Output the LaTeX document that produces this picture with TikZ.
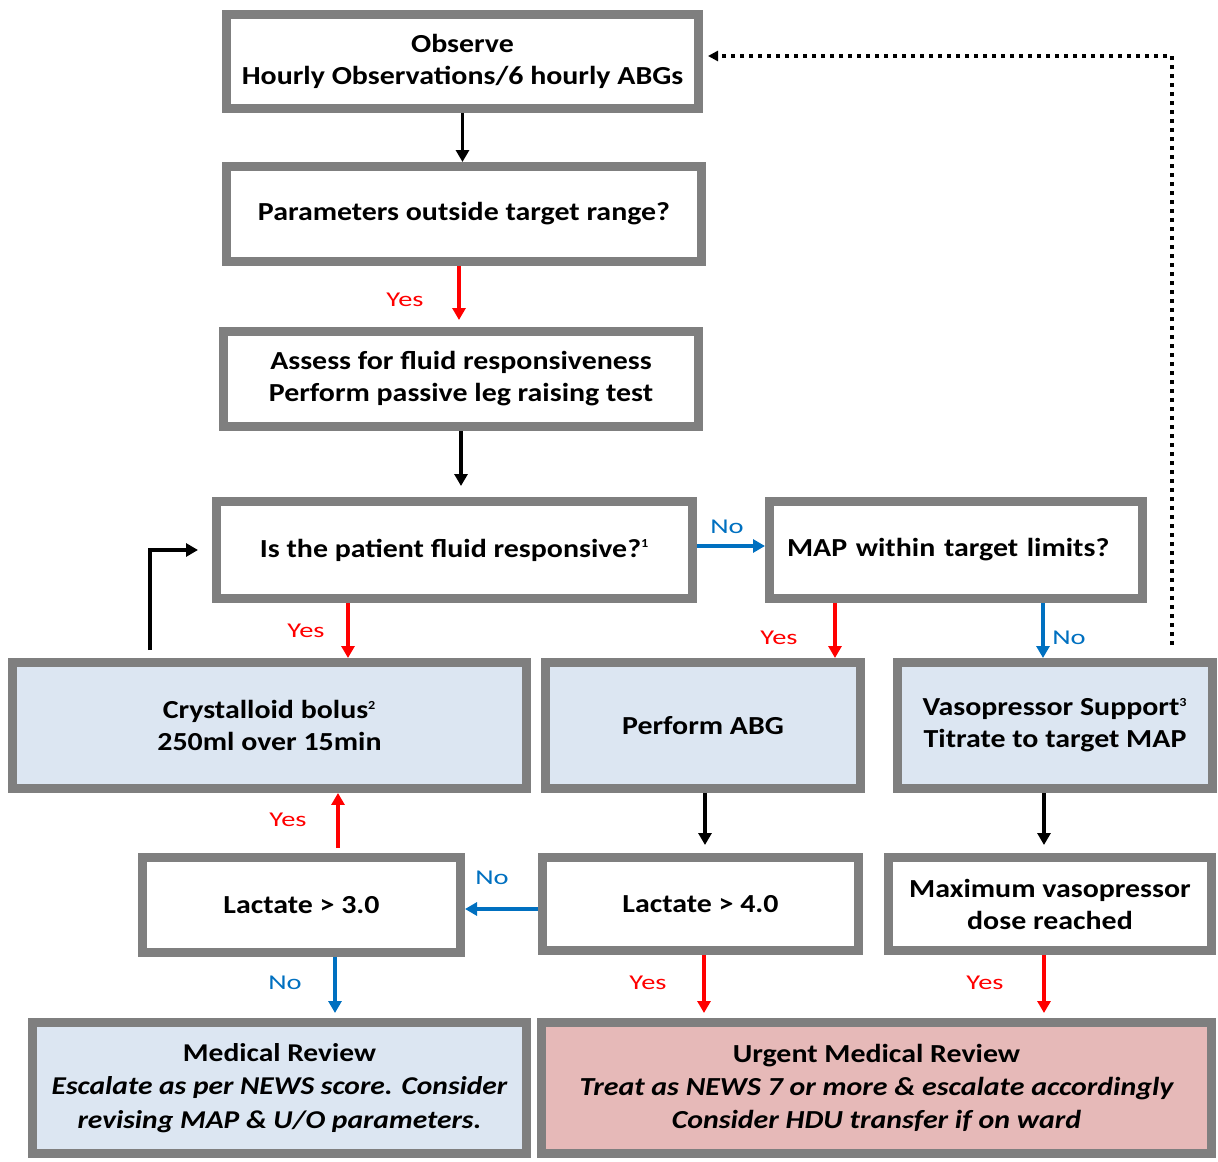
\documentclass[tikz,border=0pt]{standalone}
\usepackage{fontspec}
\setmainfont{Carlito}[FakeStretch=1.15]
\newfontfamily\lblfont{Carlito}[FakeStretch=1.35]
\usetikzlibrary{arrows.meta}
\definecolor{boxgray}{HTML}{7F7F7F}
\definecolor{paleblue}{HTML}{DCE6F2}
\definecolor{palered}{HTML}{E6B9B8}
\definecolor{noblue}{HTML}{0070C0}
\tikzset{
  box/.style={draw=boxgray, line width=0.18cm, fill=white, align=center, inner sep=0pt,
    font=\bfseries\fontsize{14.8}{18.2}\selectfont},
  wh/.style 2 args={minimum width=#1*0.02cm, minimum height=#2*0.02cm},
  arr/.style={line width=0.07cm, -{Triangle[length=0.24cm,width=0.26cm]}},
  dots/.style={line width=0.08cm, dash pattern=on 0.08cm off 0.1cm, -{Triangle[length=0.2cm,width=0.2cm]}},
  yes/.style={text=red, font=\lblfont\fontsize{12}{12}\selectfont},
  no/.style={text=noblue, font=\lblfont\fontsize{12}{12}\selectfont}
}
\begin{document}
\begin{tikzpicture}[x=0.02cm,y=-0.02cm]
\useasboundingbox (0,0) rectangle (1218,1162);
% boxes
\node[box,wh={472}{94}] (obs) at (462.5,61.5) {Observe\\Hourly Observations/6 hourly ABGs};
\node[box,wh={475}{95}] (par) at (464,214) {Parameters outside target range?};
\node[box,wh={475}{95}] (ass) at (461,379) {Assess for fluid responsiveness\\Perform passive leg raising test};
\node[box,wh={476}{97}] (isf) at (454.5,550) {Is the patient fluid responsive?\textsuperscript{\scriptsize 1}};
\node[box,wh={373}{97},align=left,inner xsep=0.35cm,text width=6.76cm] (map) at (956,550) {MAP within target limits?};
\node[box,fill=paleblue,wh={514}{126}] (cry) at (269.5,725.5) {Crystalloid bolus\textsuperscript{\scriptsize 2}\\250ml over 15min};
\node[box,fill=paleblue,wh={315}{126}] (abg) at (703,725.5) {Perform ABG};
\node[box,fill=paleblue,wh={315}{126}] (vas) at (1055,725.5) {Vasopressor Support\textsuperscript{\scriptsize 3}\\Titrate to target MAP};
\node[box,wh={318}{95}] (lac3) at (301.5,905) {Lactate > 3.0};
\node[box,wh={316}{93}] (lac4) at (700.5,904) {Lactate > 4.0};
\node[box,wh={323}{93}] (max) at (1050,904) {Maximum vasopressor\\dose reached};
\node[box,fill=paleblue,wh={494}{131},font=\bfseries\fontsize{14.6}{19}\selectfont] (med) at (279.5,1088) {Medical Review\\\itshape Escalate as per NEWS score. Consider\\\itshape revising MAP \& U/O parameters.};
\node[box,fill=palered,wh={670}{131},font=\bfseries\fontsize{14.8}{19}\selectfont] (urg) at (876.5,1088) {Urgent Medical Review\\\itshape Treat as NEWS 7 or more \& escalate accordingly\\\itshape Consider HDU transfer if on ward};
% yes / no
\node[yes] (y1) at (405,300) {Yes};
\node[no] (n1) at (727,527) {No};
\node[yes] (y2) at (306,631) {Yes};
\node[yes] (y3) at (779,638) {Yes};
\node[no] (n2) at (1069,638) {No};
\node[no] (n3) at (492,878) {No};
\node[yes] (y4) at (288,820) {Yes};
\node[no] (n4) at (285,983) {No};
\node[yes] (y5) at (648,983) {Yes};
\node[yes] (y6) at (985,983) {Yes};
% arrows
\draw[arr] (obs.south) -- (obs.south |- par.north);
\draw[arr,red,shorten >=0.14cm] (par.south -| 459,0) -- (ass.north -| 459,0);
\draw[arr,shorten >=0.22cm] (ass.south -| 461,0) -- (isf.north -| 461,0);
\draw[arr,noblue] (isf.east |- 0,546) -- (map.west |- 0,546);
\draw[arr,red] (isf.south -| 348,0) -- (cry.north -| 348,0);
\draw[arr,red] (map.south -| 835,0) -- (abg.north -| 835,0);
\draw[arr,noblue] (map.south -| 1043,0) -- (vas.north -| 1043,0);
\draw[arr,shorten <=0.16cm,shorten >=0.28cm] (cry.north -| 150,0) |- (isf.west);
\draw[arr,shorten >=0.16cm] (abg.south -| 705,0) -- (lac4.north -| 705,0);
\draw[arr,shorten >=0.16cm] (vas.south -| 1044,0) -- (max.north -| 1044,0);
\draw[arr,noblue] (lac4.west |- 0,909) -- (lac3.east |- 0,909);
\draw[arr,red,shorten <=0.1cm] (lac3.north -| 338,0) -- (cry.south -| 338,0);
\draw[arr,noblue,shorten >=0.1cm] (lac3.south -| 335,0) -- (med.north -| 335,0);
\draw[arr,red,shorten >=0.1cm] (lac4.south -| 704,0) -- (urg.north -| 704,0);
\draw[arr,red,shorten >=0.1cm] (max.south -| 1044,0) -- (urg.north -| 1044,0);
\draw[dots,shorten <=0.26cm,shorten >=0.1cm] (vas.north -| 1172,0) -- (1172,56) -- (obs.east |- 0,56);
\end{tikzpicture}
\end{document}
